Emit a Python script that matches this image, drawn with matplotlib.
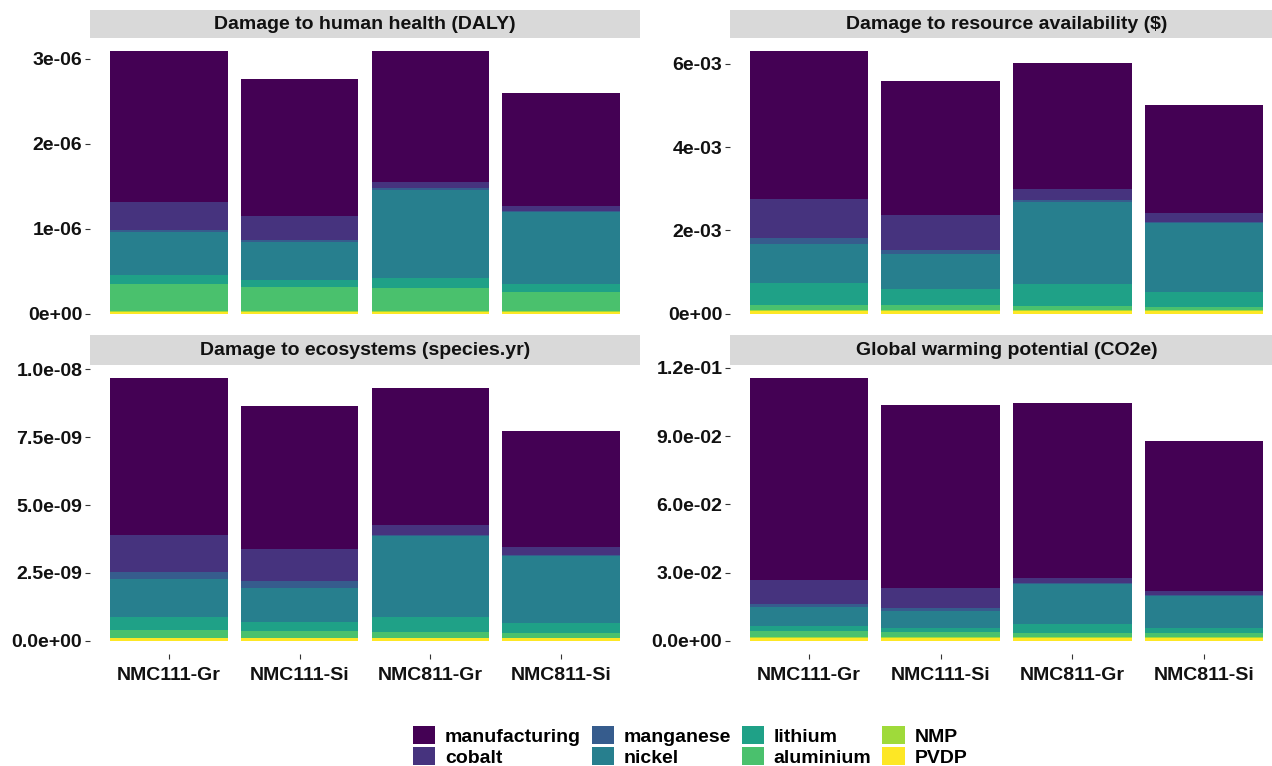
import matplotlib
matplotlib.use("Agg")
import matplotlib.pyplot as plt
from matplotlib.patches import Patch
import numpy as np

plt.rcParams['font.family'] = ['Liberation Sans', 'DejaVu Sans']
plt.rcParams['font.weight'] = 'bold'

# конфігурації батарей та складові впливу (знизу вгору стек іде у зворотному порядку)
configs = ["NMC111-Gr", "NMC111-Si", "NMC811-Gr", "NMC811-Si"]
components = ["manufacturing", "cobalt", "manganese", "nickel",
              "lithium", "aluminium", "NMP", "PVDP"]
colors = ["#440154", "#46337E", "#365C8D", "#277F8E",
          "#1FA187", "#4AC16D", "#9FDA3A", "#FDE725"]

# рядки = складові, стовпці = конфігурації
health_daly = np.array([
    [1.78, 1.61, 1.54, 1.33],
    [0.32, 0.283, 0.07, 0.055],
    [0.033, 0.03, 0.02, 0.015],
    [0.497, 0.44, 1.033, 0.85],
    [0.11, 0.082, 0.127, 0.09],
    [0.32, 0.288, 0.27, 0.23],
    [0.005, 0.005, 0.005, 0.005],
    [0.025, 0.025, 0.025, 0.025],
]) * 1e-6

resource_usd = np.array([
    [3.535, 3.19, 3.03, 2.59],
    [0.955, 0.86, 0.27, 0.21],
    [0.13, 0.09, 0.03, 0.02],
    [0.94, 0.835, 1.976, 1.65],
    [0.52, 0.39, 0.524, 0.363],
    [0.12, 0.107, 0.09, 0.067],
    [0.02, 0.02, 0.02, 0.02],
    [0.08, 0.08, 0.08, 0.08],
]) * 1e-3

ecosystem_sy = np.array([
    [5.78, 5.27, 5.04, 4.29],
    [1.34, 1.17, 0.35, 0.28],
    [0.27, 0.24, 0.05, 0.05],
    [1.42, 1.25, 2.99, 2.45],
    [0.46, 0.34, 0.53, 0.38],
    [0.28, 0.25, 0.22, 0.16],
    [0.03, 0.03, 0.03, 0.03],
    [0.09, 0.09, 0.09, 0.09],
]) * 1e-9

gwp_co2e = np.array([
    [8.88, 8.04, 7.68, 6.59],
    [1.06, 0.90, 0.23, 0.18],
    [0.11, 0.11, 0.05, 0.05],
    [0.84, 0.76, 1.77, 1.40],
    [0.23, 0.18, 0.37, 0.23],
    [0.27, 0.22, 0.19, 0.17],
    [0.03, 0.03, 0.03, 0.03],
    [0.13, 0.13, 0.13, 0.13],
]) * 1e-2

titles = ["Damage to human health (DALY)", "Damage to resource availability ($)",
          "Damage to ecosystems (species.yr)", "Global warming potential (CO2e)"]

health_ticks = [0, 1e-6, 2e-6, 3e-6]
health_labels = ["0e+00", "1e-06", "2e-06", "3e-06"]
resource_ticks = [0, 2e-3, 4e-3, 6e-3]
resource_labels = ["0e+00", "2e-03", "4e-03", "6e-03"]
eco_ticks = [0, 2.5e-9, 5e-9, 7.5e-9, 1e-8]
eco_labels = ["0.0e+00", "2.5e-09", "5.0e-09", "7.5e-09", "1.0e-08"]
gwp_ticks = [0, 0.03, 0.06, 0.09, 0.12]
gwp_labels = ["0.0e+00", "3.0e-02", "6.0e-02", "9.0e-02", "1.2e-01"]

panels = [
    (health_daly, health_ticks, health_labels),
    (resource_usd, resource_ticks, resource_labels),
    (ecosystem_sy, eco_ticks, eco_labels),
    (gwp_co2e, gwp_ticks, gwp_labels),
]

W, H = 1272, 766
fig = plt.figure(figsize=(W / 100, H / 100), dpi=100)

# межі панелей у пікселях: (x0, x1), (y0, y1) від верху
cols_px = [(90, 640), (730, 1283)]
rows_px = [(38, 327), (365, 654)]
strips_px = [(10, 38), (335, 365)]
text_col = "#111111"

for i, (data, ticks, labels) in enumerate(panels):
    r, c = divmod(i, 2)
    x0, x1 = cols_px[c]
    y0, y1 = rows_px[r]
    ax = fig.add_axes([x0 / W, 1 - y1 / H, (x1 - x0) / W, (y1 - y0) / H])

    xs = np.arange(len(configs))
    bottom = np.zeros(len(configs))
    # стек: PVDP знизу, manufacturing зверху
    for k in range(len(components) - 1, -1, -1):
        ax.bar(xs, data[k], bottom=bottom, width=0.9, color=colors[k], linewidth=0)
        bottom += data[k]

    top = bottom.max()
    ax.set_ylim(-0.05 * top, 1.05 * top)
    ax.set_xlim(-0.6, len(configs) - 0.4)
    ax.set_yticks(ticks)
    ax.set_yticklabels(labels, fontsize=14, fontweight='bold', color=text_col)
    ax.tick_params(axis='y', length=3.5, width=0.8, color="#333333", pad=2)
    if r == 1:
        ax.set_xticks(xs)
        ax.set_xticklabels(configs, fontsize=14, fontweight='bold', color=text_col)
        ax.tick_params(axis='x', length=3.5, width=0.8, color="#333333", pad=6)
    else:
        ax.set_xticks([])
    for s in ax.spines.values():
        s.set_visible(False)

    # смуга з назвою панелі
    sy0, sy1 = strips_px[r]
    sax = fig.add_axes([x0 / W, 1 - sy1 / H, (x1 - x0) / W, (sy1 - sy0) / H])
    sax.set_facecolor("#D9D9D9")
    sax.set_xticks([])
    sax.set_yticks([])
    for s in sax.spines.values():
        s.set_visible(False)
    sax.text(0.5, 0.48, titles[i], ha='center', va='center', fontsize=14,
             fontweight='bold', color=text_col, transform=sax.transAxes)

handles = [Patch(facecolor=col, edgecolor='none') for col in colors]
fig.legend(handles, components, ncol=4, loc='upper center',
           bbox_to_anchor=(690 / W, 1 - 716 / H), frameon=False,
           prop={'size': 14, 'weight': 'bold'}, handlelength=1.15,
           handleheight=1.1, handletextpad=0.5, columnspacing=0.55,
           labelspacing=0.05, borderpad=0.0)

fig.savefig("out.png", dpi=100)
